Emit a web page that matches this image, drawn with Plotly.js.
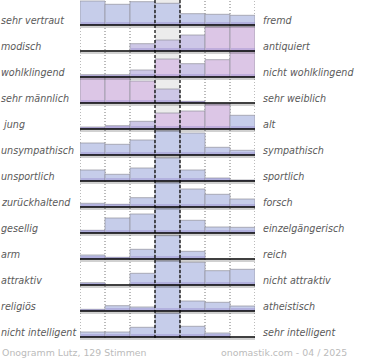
<!DOCTYPE html>
<html>
<head>
<meta charset="utf-8">
<script src="https://cdn.plot.ly/plotly-3.0.1.min.js"></script>
<style>html,body{margin:0;padding:0;background:#fff}#chart{width:370px;height:360px}</style>
</head>
<body>
<div id="chart"></div>
<script>
// ---- data (bar heights, one array per scale) ----
const leftLabels = ['sehr vertraut','modisch','wohlklingend','sehr männlich','\u00a0jung','unsympathisch','unsportlich','zurückhaltend','gesellig','arm','attraktiv','religiös','nicht intelligent'];
const rightLabels = ['fremd','antiquiert','nicht wohlklingend','sehr weiblich','alt','sympathisch','sportlich','forsch','einzelgängerisch','reich','nicht attraktiv','atheistisch','sehr intelligent'];
const steps = [1,2,3,4,5,6,7];

const vertraut     = [24, 20.7, 23.3, 21.7, 11.3, 10.7, 9.7];
const modisch      = [0, 0, 7.3, 11, 16, 24.3, 24.7];
const wohlklingend = [2.3, 2.3, 7, 18, 13.3, 17.3, 25.6];
const maennlich    = [26, 26, 22, 14, 1.7, 0, 0];
const jung         = [2, 3.3, 7.7, 16, 18, 25, 13.7];
const unsympathisch= [12, 10.7, 15, 24.3, 22, 7.7, 4.7];
const unsportlich  = [11, 6.7, 13, 23, 11, 3, 1];
const zurueck      = [3.7, 2.7, 9.3, 24.7, 18, 12.7, 8];
const gesellig     = [2.7, 15, 19, 25, 12.7, 6, 5.7];
const arm          = [4, 1.7, 9.7, 23.3, 7.7, 0, 0];
const attraktiv    = [2.3, 0, 11.7, 24.3, 22.7, 14.3, 15.7];
const religioes    = [1.7, 5.3, 4, 25.3, 10, 8.7, 5];
const intelligent  = [5, 5, 9.7, 24, 10.7, 4, 0];
const rows = [vertraut, modisch, wohlklingend, maennlich, jung, unsympathisch, unsportlich, zurueck, gesellig, arm, attraktiv, religioes, intelligent];

// ---- styling (tints per bar: B blue, M mixed, P pink) ----
const tints = ['BBBBBBB','BBMMMPP','MMMPMPP','PPPMMBB','MMMPPPB','BBBBBBB','BBBBBBB','BBBBBBB','BBBBBBB','BBBBBBB','BBBBBBB','BBBBBBB','BBBBBBB'];
const tintColor = {B:'#c6cdea', M:'#cdc7e7', P:'#dcc6e6'};
const ROW = 26;
const nRows = rows.length;

const xs=[], ys=[], bases=[], cols=[], bandY=[];
rows.forEach((r,i)=>{
  const base = (nRows-1-i)*ROW;
  r.forEach((v,j)=>{
    if(v<=0) return;
    xs.push(steps[j]); ys.push(v); bases.push(base);
    cols.push(tintColor[tints[i][j]]);
    bandY.push(Math.min(v,3));
  });
});

const traces = [
  {type:'bar', x:xs, y:ys, base:bases, width:1, marker:{color:cols, line:{color:'rgba(150,150,160,0.75)', width:1}}, hoverinfo:'skip'},
  {type:'bar', x:xs, y:bandY, base:bases, width:0.96, marker:{color:'rgba(140,125,200,0.35)', line:{width:0}}, hoverinfo:'skip'}
];

const yTop = (nRows-1)*ROW + 25;
const shapes = [
  {type:'rect', xref:'x', yref:'y', x0:3.5, x1:4.5, y0:-1, y1:yTop, fillcolor:'#ececec', line:{width:0}, layer:'below'}
];
[0.5,1.5,2.5,5.5,6.5,7.5].forEach(x=>shapes.push({type:'line', xref:'x', yref:'y', x0:x, x1:x, y0:-1, y1:yTop, line:{color:'#777', width:1, dash:'1px,2px'}, layer:'below'}));
[3.5,4.5].forEach(x=>shapes.push({type:'line', xref:'x', yref:'y', x0:x, x1:x, y0:-1, y1:yTop, line:{color:'#000', width:1.2, dash:'3px,2px'}, layer:'above'}));
rows.forEach((r,i)=>{
  const base=(nRows-1-i)*ROW;
  shapes.push({type:'line', xref:'x', yref:'y', x0:0.5, x1:7.5, y0:base-2, y1:base-2, line:{color:'rgba(0,0,0,0.18)', width:2}, layer:'above'});
  shapes.push({type:'line', xref:'x', yref:'y', x0:0.5, x1:7.5, y0:base, y1:base, line:{color:'#000', width:1.6}, layer:'above'});
});

const annotations = [];
const lf = {family:'DejaVu Sans', size:9.6, color:'#5a5a5a', style:'italic'};
rows.forEach((r,i)=>{
  const base=(nRows-1-i)*ROW;
  annotations.push({xref:'paper', yref:'y', x:-81/175, y:base+5, xanchor:'left', yanchor:'middle', text:leftLabels[i], showarrow:false, font:lf});
  annotations.push({xref:'paper', yref:'y', x:(261-80)/175, y:base+5, xanchor:'left', yanchor:'middle', text:rightLabels[i], showarrow:false, font:lf});
});
const ff = {family:'DejaVu Sans', size:9.4, color:'#bbbbbb'};
annotations.push({xref:'paper', yref:'paper', x:-80/175, y:-7/345, xanchor:'left', yanchor:'middle', text:'Onogramm Lutz, 129 Stimmen', showarrow:false, font:ff});
annotations.push({xref:'paper', yref:'paper', x:(349-80)/175, y:-7/345, xanchor:'right', yanchor:'middle', text:'onomastik.com - 04 / 2025', showarrow:false, font:ff});

const layout = {
  width:370, height:360,
  margin:{l:80, r:115, t:0, b:15, pad:0},
  paper_bgcolor:'#fff', plot_bgcolor:'rgba(0,0,0,0)',
  showlegend:false, barmode:'overlay', bargap:0,
  xaxis:{range:[0.5,7.5], visible:false, fixedrange:true},
  yaxis:{range:[-8, yTop], visible:false, fixedrange:true},
  shapes:shapes, annotations:annotations,
  font:{family:'DejaVu Sans'}
};
Plotly.newPlot('chart', traces, layout, {displayModeBar:false, staticPlot:true});
</script>
</body>
</html>
